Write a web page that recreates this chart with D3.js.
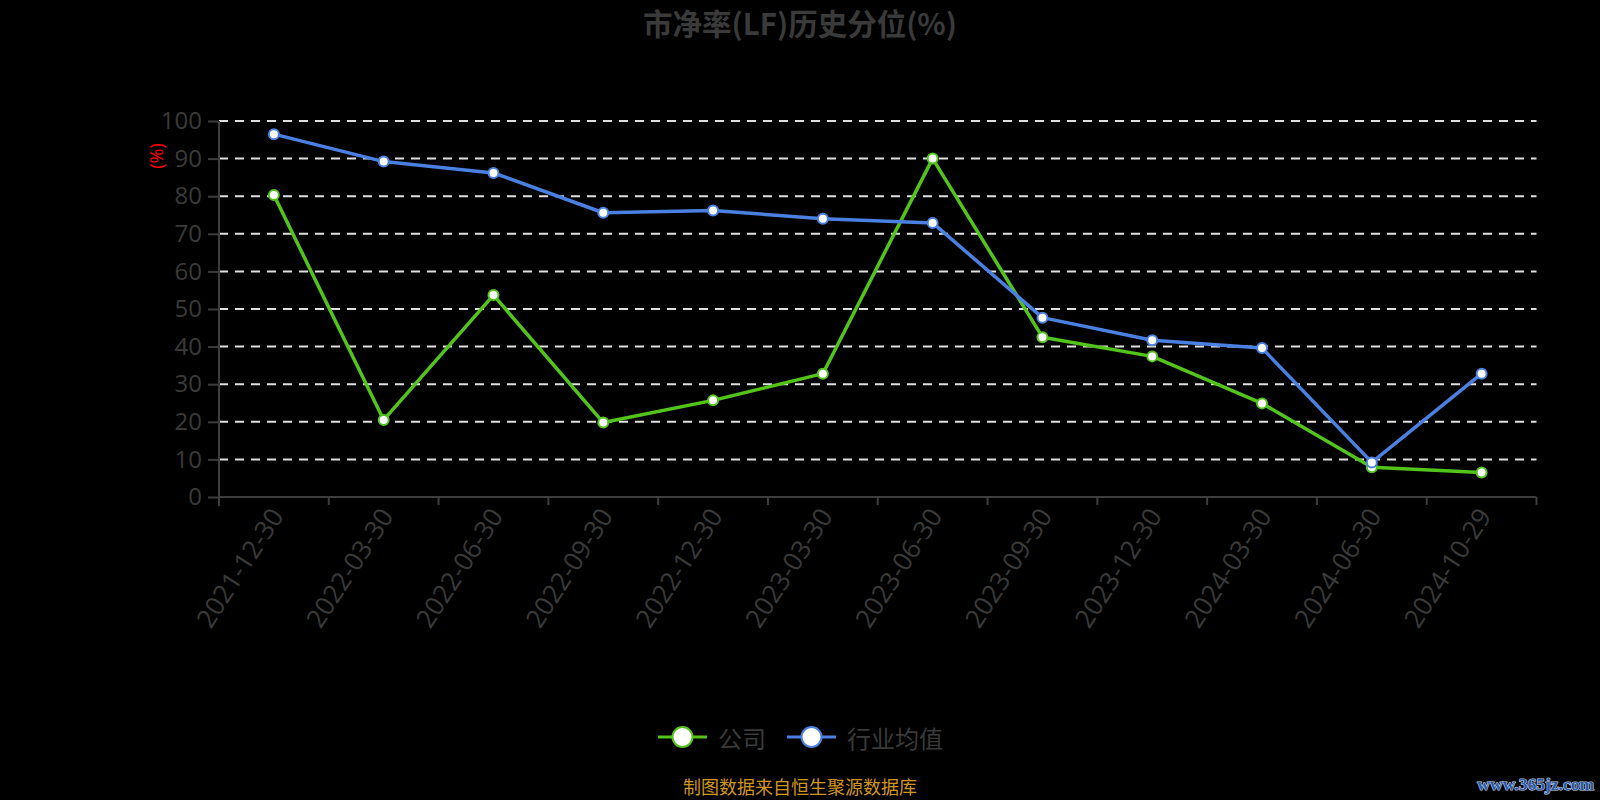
<!DOCTYPE html>
<html>
<head>
<meta charset="utf-8">
<script src="https://cdn.jsdelivr.net/npm/d3@7/dist/d3.min.js"></script>
<style>
html,body{margin:0;padding:0;background:#000;}
svg{display:block;}
</style>
</head>
<body>
<svg id="chart" width="1600" height="800"></svg>
<script>
const categories = ["2021-12-30","2022-03-30","2022-06-30","2022-09-30","2022-12-30","2023-03-30","2023-06-30","2023-09-30","2023-12-30","2024-03-30","2024-06-30","2024-10-29"];
const companyValues = [80.3, 20.5, 53.7, 19.8, 25.7, 32.8, 90.0, 42.5, 37.4, 24.9, 7.9, 6.5];
const industryValues = [96.5, 89.2, 86.2, 75.6, 76.2, 74.0, 72.9, 47.7, 41.7, 39.6, 9.2, 32.8];
const yTicks = [0,10,20,30,40,50,60,70,80,90,100];
const seriesNames = ["公司","行业均值"];
const titleText = "市净率(LF)历史分位(%)";
const yAxisName = "(%)";
const footerText = "制图数据来自恒生聚源数据库";
const watermarkText = "www.365jz.com";

(function () {
const colors = ["#52c41a", "#4a80e2"];
const svg = d3.select("#chart");
const W = 1600, H = 800;
const gLeft = 219, gRight = 1536.5, gTop = 121, gBottom = 497;

svg.append("rect").attr("width", W).attr("height", H).attr("fill", "#000");

const x = d3.scaleBand().domain(categories).range([gLeft, gRight]).padding(0);
const y = d3.scaleLinear().domain([0, 100]).range([gBottom, gTop]);
const cx = d => x(d) + x.bandwidth() / 2;

// title
svg.append("text").attr("x", 800).attr("y", 22).attr("text-anchor", "middle")
  .attr("dominant-baseline", "central")
  .attr("font-family", "'Noto Sans CJK SC', sans-serif").attr("font-weight", "bold")
  .attr("font-size", 29.5).attr("fill", "#3a3a3a").text(titleText);

// grid lines
svg.append("g").selectAll("line").data(yTicks.filter(t => t > 0)).join("line")
  .attr("x1", gLeft).attr("x2", gRight)
  .attr("y1", d => y(d)).attr("y2", d => y(d))
  .attr("stroke", "#e0e0e0").attr("stroke-width", 2).attr("stroke-dasharray", "9,7");

// y axis
const yAxis = svg.append("g").attr("transform", `translate(${gLeft},0)`)
  .call(d3.axisLeft(y).tickValues(yTicks).tickSize(11).tickPadding(6));
yAxis.select(".domain").attr("stroke", "#3d3d3d").attr("stroke-width", 2).attr("d", `M0,${gBottom + 9}V${gTop}`);
yAxis.selectAll(".tick line").attr("stroke", "#3d3d3d").attr("stroke-width", 2);
yAxis.selectAll(".tick text").attr("fill", "#3a3a3a").attr("font-size", 24)
  .attr("font-family", "'Open Sans', sans-serif");

// y axis name
svg.append("text").attr("transform", "translate(156,156) rotate(-90)")
  .attr("text-anchor", "middle").attr("dominant-baseline", "central")
  .attr("font-size", 18).attr("font-family", "'Open Sans', sans-serif")
  .attr("fill", "#ff0000").text(yAxisName);

// x axis
const xg = svg.append("g");
xg.append("line").attr("x1", gLeft).attr("x2", gRight).attr("y1", gBottom).attr("y2", gBottom)
  .attr("stroke", "#3d3d3d").attr("stroke-width", 2);
const boundaries = categories.map(c => x(c)).concat([gRight]);
xg.selectAll("line.tk").data(boundaries).join("line").attr("class", "tk")
  .attr("x1", d => d).attr("x2", d => d).attr("y1", gBottom).attr("y2", gBottom + 8)
  .attr("stroke", "#3d3d3d").attr("stroke-width", 2);
xg.selectAll("text").data(categories).join("text")
  .attr("transform", d => `translate(${cx(d) + 3},${gBottom + 14}) rotate(-57)`)
  .attr("text-anchor", "end").attr("dy", "0.35em")
  .attr("font-size", 26).attr("font-family", "'Open Sans', sans-serif")
  .attr("fill", "#3a3a3a").text(d => d);

// lines
const series = [companyValues, industryValues];
const line = d3.line().x((d, i) => cx(categories[i])).y(d => y(d));
series.forEach((vals, si) => {
  svg.append("path").datum(vals).attr("d", line).attr("fill", "none")
    .attr("stroke", colors[si]).attr("stroke-width", 3.5).attr("stroke-linejoin", "round");
});
series.forEach((vals, si) => {
  svg.append("g").selectAll("circle").data(vals).join("circle")
    .attr("cx", (d, i) => cx(categories[i])).attr("cy", d => y(d)).attr("r", 5)
    .attr("fill", "#fff").attr("stroke", colors[si]).attr("stroke-width", 2);
});

// legend
const legendItems = [{x: 658, tx: 718}, {x: 787, tx: 847}];
legendItems.forEach((it, i) => {
  const g = svg.append("g");
  g.append("line").attr("x1", it.x).attr("x2", it.x + 49).attr("y1", 737).attr("y2", 737)
    .attr("stroke", colors[i]).attr("stroke-width", 3);
  g.append("circle").attr("cx", it.x + 24.5).attr("cy", 737).attr("r", 10)
    .attr("fill", "#fff").attr("stroke", colors[i]).attr("stroke-width", 2);
  g.append("text").attr("x", it.tx).attr("y", 737).attr("dominant-baseline", "central")
    .attr("font-size", 24).attr("font-family", "'Noto Sans CJK SC', sans-serif")
    .attr("fill", "#3a3a3a").text(seriesNames[i]);
});

// footer
svg.append("text").attr("x", 800).attr("y", 786).attr("text-anchor", "middle")
  .attr("dominant-baseline", "central").attr("font-size", 18)
  .attr("font-family", "'Noto Sans CJK SC', sans-serif").attr("fill", "#d0961c").text(footerText);

// watermark
svg.append("text").attr("x", 1594).attr("y", 784).attr("text-anchor", "end")
  .attr("dominant-baseline", "central").attr("font-size", 17.5).attr("font-weight", "bold")
  .attr("font-family", "'Liberation Serif', serif").attr("fill", "#2a5bab")
  .attr("stroke", "#c8d4e8").attr("stroke-width", 1.2).attr("paint-order", "stroke")
  .text(watermarkText);
})();
</script>
</body>
</html>
